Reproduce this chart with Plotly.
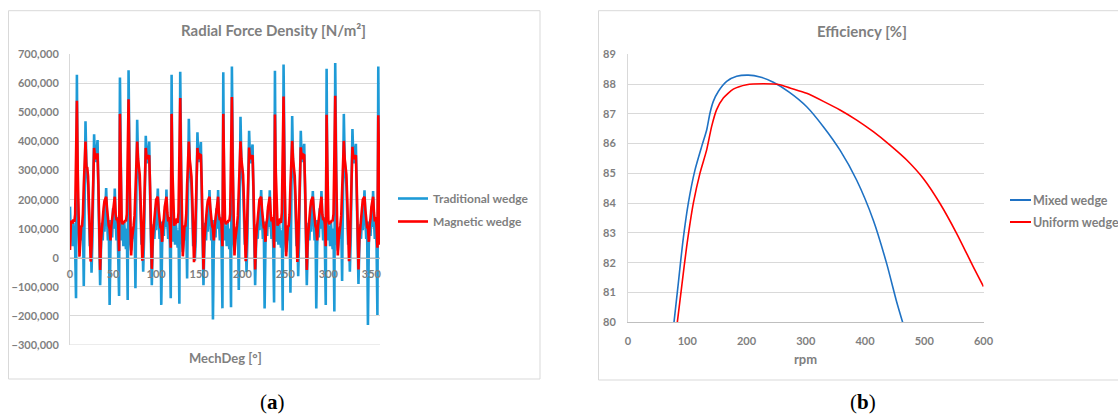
import plotly.graph_objects as go

W, H = 1118, 417

# ---------------- Data: Radial force density (values in thousands of N/m^2) ----------------
mech_deg = list(range(0, 361))

trad_k = [
    176, 60, 110, 40, 120, 70, 30, -139,
    # 8..57
    630, 200, 60, 20, 90, 110, 60, 130, -97, 180,
    470, 330, 290, 250, 150, 40, 90, -51, 60, 250,
    425, 340, 330, 370, 405, 220, 60, -94, 30, 120,
    60, 150, 90, 170, 240, 140, 60, 130, -162, 40,
    130, 70, 170, 100, 238, 130, 60, 140, 40, -131,
    # 58..67
    620, 150, 60, 110, 40, 120, 70, 30, 100, -145,
    # 68..117
    645, 210, 55, 25, 95, 105, 65, 125, -105, 175,
    475, 335, 285, 245, 145, 45, 85, -48, 65, 245,
    420, 345, 325, 365, 400, 215, 55, -94, 35, 115,
    65, 145, 95, 165, 238, 135, 65, 125, -162, 45,
    125, 75, 165, 105, 235, 125, 65, 135, 45, -139,
    # 118..127
    630, 155, 55, 115, 45, 115, 75, 35, 95, -158,
    # 128..177
    640, 205, 60, 20, 90, 110, 60, 130, -71, 180,
    478, 330, 290, 250, 150, 40, 90, -10, 60, 250,
    432, 340, 330, 370, 398, 220, 60, -94, 30, 120,
    60, 150, 90, 170, 233, 140, 60, 130, -212, 40,
    130, 70, 170, 100, 233, 130, 60, 140, 40, -174,
    # 178..187
    638, 150, 60, 110, 40, 120, 70, 30, 100, -170,
    # 188..237
    658, 200, 55, 25, 95, 105, 65, 125, -111, 175,
    485, 335, 285, 245, 145, 45, 85, -50, 65, 245,
    437, 345, 325, 365, 390, 215, 55, -94, 35, 115,
    65, 145, 95, 165, 233, 135, 65, 125, -174, 45,
    125, 75, 165, 105, 232, 125, 65, 135, 45, -154,
    # 238..247
    643, 155, 55, 115, 45, 115, 75, 35, 95, -181,
    # 248..297
    665, 205, 60, 20, 90, 110, 60, 130, -120, 180,
    488, 330, 290, 250, 150, 40, 90, -63, 60, 250,
    437, 340, 330, 370, 392, 220, 60, -94, 30, 120,
    60, 150, 90, 170, 230, 140, 60, 130, -174, 40,
    130, 70, 170, 100, 230, 130, 60, 140, 40, -162,
    # 298..307
    650, 150, 60, 110, 40, 120, 70, 30, 100, -185,
    # 308..357
    670, 200, 55, 25, 95, 105, 65, 125, -80, 175,
    495, 335, 285, 245, 145, 45, 85, -48, 65, 245,
    443, 345, 325, 365, 392, 215, 55, -90, 35, 115,
    65, 145, 95, 165, 232, 135, 65, 125, -231, 45,
    125, 75, 165, 105, 230, 125, 65, 135, 45, -197,
    # 358..360
    658, 150, 50,
]

mag_k = [
    27, 120, 128, 118, 132, 124, 150, 350,
    # 8..57
    540, 300, 100, 4, 60, 107, 110, 150, 250, 360,
    400, 313, 310, 280, 200, 80, -13, 40, 150, 300,
    378, 345, 340, 355, 355, 250, 100, -42, 60, 110,
    140, 170, 195, 205, 210, 170, 125, 110, 100, 60,
    110, 140, 170, 200, 210, 150, 130, 135, 115, 23,
    # 58..67
    495, 300, 130, 115, 125, 120, 130, 125, 150, 350,
    # 68..117
    545, 305, 95, 8, 65, 105, 112, 145, 255, 355,
    400, 340, 305, 285, 195, 85, -10, 45, 145, 305,
    378, 340, 345, 350, 353, 245, 105, -38, 65, 105,
    145, 165, 200, 205, 210, 165, 130, 105, 105, 55,
    115, 135, 175, 195, 210, 155, 125, 140, 110, 35,
    # 118..127
    495, 295, 135, 110, 130, 115, 135, 120, 155, 345,
    # 128..177
    550, 300, 100, 5, 60, 108, 110, 150, 250, 360,
    400, 340, 310, 280, 200, 80, -15, 40, 150, 300,
    378, 345, 340, 355, 353, 250, 100, -40, 60, 110,
    140, 170, 195, 205, 210, 170, 125, 110, 100, 60,
    110, 140, 170, 200, 210, 150, 130, 135, 115, 40,
    # 178..187
    495, 300, 130, 115, 125, 120, 130, 125, 150, 350,
    # 188..237
    553, 305, 95, 8, 65, 105, 112, 145, 255, 355,
    401, 340, 305, 285, 195, 85, -12, 45, 145, 305,
    379, 340, 345, 350, 353, 245, 105, -40, 65, 105,
    145, 165, 200, 205, 210, 165, 130, 105, 105, 55,
    115, 135, 175, 195, 210, 155, 125, 140, 110, 35,
    # 238..247
    493, 295, 135, 110, 130, 115, 135, 120, 155, 345,
    # 248..297
    555, 300, 100, 5, 60, 108, 110, 150, 250, 360,
    402, 340, 310, 280, 200, 80, -14, 40, 150, 300,
    380, 345, 340, 355, 353, 250, 100, -42, 60, 110,
    140, 170, 195, 205, 210, 170, 125, 110, 100, 60,
    110, 140, 170, 200, 210, 150, 130, 135, 115, 40,
    # 298..307
    492, 300, 130, 115, 125, 120, 130, 125, 150, 350,
    # 308..357
    557, 305, 95, 8, 65, 105, 112, 145, 255, 355,
    402, 340, 305, 285, 195, 85, -12, 45, 145, 305,
    382, 340, 345, 350, 353, 245, 105, -40, 65, 105,
    145, 165, 200, 205, 210, 165, 130, 105, 105, 55,
    115, 135, 175, 195, 210, 155, 125, 140, 110, 35,
    # 358..360
    490, 300, 45,
]

# ---------------- Data: Efficiency ----------------
mixed_rpm = [77.6, 84.9, 92.3, 101.8, 113.1, 124.3, 132.8, 138.4, 144.0, 152.4, 166.5,
             183.4, 203.1, 222.8, 245.3, 272.0, 301.6, 329.7, 357.8, 386.0, 414.0,
             436.6, 453.5, 463.5]
mixed_eff = [80.0, 81.31, 82.66, 84.0, 85.12, 85.9, 86.46, 87.03, 87.42, 87.75, 88.09,
             88.26, 88.30, 88.24, 88.06, 87.73, 87.24, 86.57, 85.78, 84.77, 83.43,
             81.97, 80.68, 80.0]

uniform_rpm = [83.2, 90.6, 99.0, 110.3, 121.5, 132.8, 141.2, 149.6, 160.9, 177.7, 200.3,
               228.4, 256.5, 273.4, 301.6, 357.8, 386.0, 414.0, 442.2, 470.4, 498.4,
               526.6, 554.8, 582.8, 600.0]
uniform_eff = [80.0, 81.2, 82.54, 84.0, 85.01, 85.79, 86.58, 87.14, 87.53, 87.83, 87.98,
               88.01, 87.98, 87.87, 87.69, 87.13, 86.79, 86.40, 85.95, 85.45, 84.83,
               83.99, 82.98, 81.86, 81.2]

left_xticks = [0, 50, 100, 150, 200, 250, 300, 350]
left_yticks = [-300000, -200000, -100000, 0, 100000, 200000, 300000, 400000, 500000, 600000, 700000]
right_xticks = [0, 100, 200, 300, 400, 500, 600]
right_yticks = [80, 81, 82, 83, 84, 85, 86, 87, 88, 89]

# ---------------- helpers (pixel -> paper) ----------------
def px(x):
    return x / W

def py(y):
    return (H - y) / H

GRID = "#d9d9d9"
TXT = "#7f7f7f"
FONT = "Lato"
BLUE2 = "#1F72C4"
RED = "#FF0000"

fig = go.Figure()

fig.add_trace(go.Scatter(x=mech_deg, y=[v * 1000 for v in trad_k], mode="lines",
                         name="Traditional wedge", line=dict(color="#1E9BD7", width=2.6),
                         xaxis="x", yaxis="y", legendgroup="t"))
fig.add_trace(go.Scatter(x=mech_deg, y=[v * 1000 for v in mag_k], mode="lines",
                         name="Magnetic wedge", line=dict(color=RED, width=2.6),
                         xaxis="x", yaxis="y", legendgroup="m"))

fig.add_trace(go.Scatter(x=mixed_rpm, y=mixed_eff, mode="lines", name="Mixed wedge",
                         line=dict(color=BLUE2, width=1.6, shape="spline", smoothing=0.6),
                         xaxis="x2", yaxis="y2", showlegend=False))
fig.add_trace(go.Scatter(x=uniform_rpm, y=uniform_eff, mode="lines", name="Uniform wedge",
                         line=dict(color=RED, width=1.6, shape="spline", smoothing=0.6),
                         xaxis="x2", yaxis="y2", showlegend=False))

# left plot: x 70..380, y 54.3..345
ly0, ly1 = py(345), py(54.3)
zero_pos = ly0 + (0 - (-300000)) / 1000000 * (ly1 - ly0)

tickfont = dict(family=FONT, size=11, color=TXT, weight="bold")
legfont = dict(family=FONT, size=12, color=TXT, weight="bold")

fig.update_layout(
    template="none",
    width=W, height=H, autosize=False,
    margin=dict(l=0, r=0, t=0, b=0, pad=0),
    paper_bgcolor="white", plot_bgcolor="white",
    showlegend=True,
    xaxis=dict(domain=[px(70), px(380)], range=[0, 360], anchor="free", position=zero_pos,
               tickvals=left_xticks, showgrid=False, zeroline=False, automargin=False,
               showline=True, linecolor="#bfbfbf", linewidth=1,
               tickfont=tickfont, ticks="", ticklabelstandoff=6),
    yaxis=dict(domain=[ly0, ly1], range=[-300000, 700000], anchor="x",
               tickvals=left_yticks, tickformat=",", showgrid=True, gridcolor=GRID,
               gridwidth=1, zeroline=False, showline=True, linecolor=GRID, linewidth=1,
               automargin=False, tickfont=tickfont, ticks="", ticklabelstandoff=8),
    xaxis2=dict(domain=[px(628), px(983.5)], range=[0, 600], anchor="y2",
                tickvals=right_xticks, showgrid=False, zeroline=False, automargin=False,
                showline=True, linecolor="#bfbfbf", linewidth=1,
                tickfont=tickfont, ticks="", ticklabelstandoff=8),
    yaxis2=dict(domain=[py(322.3), py(54.3)], range=[80, 89], anchor="x2",
                tickvals=right_yticks, showgrid=True, gridcolor=GRID, gridwidth=1,
                zeroline=False, showline=True, linecolor=GRID, linewidth=1,
                automargin=False, tickfont=tickfont, ticks="", ticklabelstandoff=9),
    legend=dict(x=px(393), y=py(184), xanchor="left", yanchor="top", font=legfont,
                bgcolor="rgba(0,0,0,0)", itemwidth=30, tracegroupgap=4),
)

shapes = [
    dict(type="rect", xref="paper", yref="paper", x0=px(8.5), x1=px(540), y0=py(379), y1=py(10.7),
         line=dict(color="#d9d9d9", width=1), fillcolor="rgba(0,0,0,0)", layer="below"),
    dict(type="rect", xref="paper", yref="paper", x0=px(598.5), x1=px(1125), y0=py(380), y1=py(10.7),
         line=dict(color="#d9d9d9", width=1), fillcolor="rgba(0,0,0,0)", layer="below"),
    dict(type="line", xref="x domain", yref="y", x0=0, x1=1, y0=-300000, y1=-300000,
         line=dict(color=GRID, width=1), layer="below"),
    # legend keys of the efficiency chart (its text may run off the right edge, as in the source)
    dict(type="line", xref="paper", yref="paper", x0=px(1010), x1=px(1031), y0=py(200), y1=py(200),
         line=dict(color=BLUE2, width=2)),
    dict(type="line", xref="paper", yref="paper", x0=px(1010), x1=px(1031), y0=py(222), y1=py(222),
         line=dict(color=RED, width=2)),
]
fig.update_layout(shapes=shapes)

def note(text, x, y, size, family=FONT, color=TXT, bold=True, xanchor="center"):
    f = dict(family=family, size=size, color=color)
    if bold:
        f["weight"] = "bold"
    return dict(text=text, x=px(x), y=py(y), xref="paper", yref="paper",
                xanchor=xanchor, yanchor="middle", showarrow=False, font=f)

ann = [
    note("Radial Force Density [N/m²]", 273, 30, 15),
    note("MechDeg [°]", 225, 358, 13),
    note("Efficiency [%]", 862, 31, 15),
    note("rpm", 806, 359, 13),
    note("Mixed wedge", 1031, 200, 12.5, xanchor="left"),
    note("Uniform wedge", 1031, 222, 12.5, xanchor="left"),
    note("(<b>a</b>)", 272, 402, 21, family="Liberation Serif", color="black", bold=False),
    note("(<b>b</b>)", 863, 402, 21, family="Liberation Serif", color="black", bold=False),
]
fig.update_layout(annotations=ann)

fig.write_html("out.html",
               config={"displayModeBar": False},
               post_script="document.body.style.margin='0px';"
                           "document.documentElement.style.overflow='hidden';")
